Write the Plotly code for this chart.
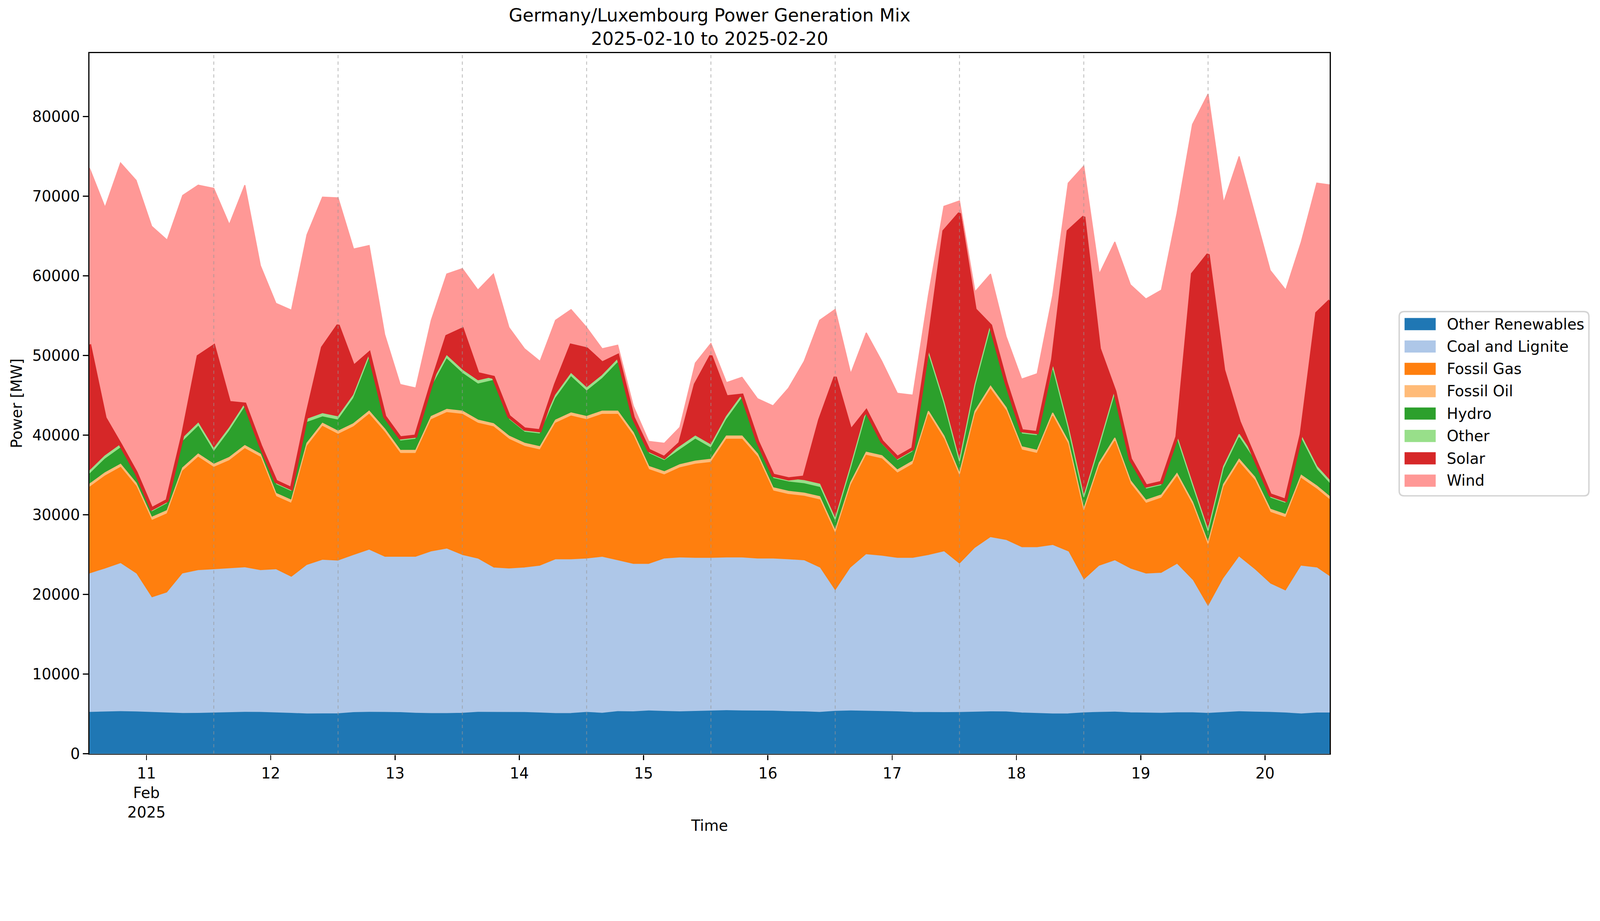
import pandas as pd
import plotly.graph_objects as go

# 3-hourly readings from 2025-02-10 13:00, last sample at 2025-02-20 12:30
times = list(pd.date_range("2025-02-10 13:00", periods=80, freq="3h")) + [
    pd.Timestamp("2025-02-20 12:30")
]

other_renewables = [
    5190, 5230, 5290, 5250, 5190, 5110, 5050, 5070, 5110, 5170,
    5200, 5190, 5140, 5070, 4990, 4990, 5020, 5160, 5200, 5190,
    5160, 5080, 5040, 5040, 5080, 5200, 5190, 5190, 5170, 5110,
    5040, 5050, 5190, 5080, 5290, 5260, 5370, 5310, 5260, 5310,
    5350, 5410, 5370, 5350, 5350, 5290, 5260, 5190, 5320, 5370,
    5340, 5310, 5260, 5190, 5160, 5160, 5170, 5230, 5260, 5250,
    5110, 5050, 4990, 5010, 5130, 5190, 5220, 5140, 5110, 5080,
    5140, 5140, 5070, 5190, 5280, 5220, 5190, 5110, 4990, 5110,
    5110,
]
coal_lignite = [
    17390, 17970, 18580, 17330, 14380, 15090, 17530, 17930, 17990, 18060,
    18150, 17810, 17960, 17080, 18660, 19310, 19180, 19740, 20370, 19490,
    19520, 19600, 20310, 20660, 19820, 19250, 18140, 18010, 18160, 18450,
    19320, 19310, 19260, 19600, 18940, 18520, 18410, 19140, 19330, 19230,
    19190, 19180, 19220, 19100, 19100, 19070, 18970, 18140, 15080, 17960,
    19650, 19500, 19280, 19350, 19740, 20190, 18610, 20560, 21880, 21530,
    20770, 20830, 21160, 20340, 16640, 18370, 19010, 18060, 17460, 17580,
    18640, 16630, 13340, 16800, 19400, 17890, 16130, 15310, 18570, 18220,
    17110,
]
fossil_gas = [
    10870, 11670, 12080, 11000, 9710, 9940, 12920, 14230, 12850, 13570,
    14950, 14230, 9200, 9280, 14950, 16800, 15900, 16150, 17050, 15700,
    13020, 13020, 16600, 17140, 17720, 17050, 17720, 16290, 15260, 14590,
    17140, 18040, 17500, 17940, 18390, 16150, 11900, 10560, 11310, 11810,
    12040, 14900, 14900, 12800, 8550, 8190, 8100, 8550, 7200, 10340,
    12480, 12220, 10690, 11810, 17720, 14140, 11010, 16830, 18610, 16280,
    12270, 11820, 16250, 13470, 8540, 12570, 15030, 10700, 8860, 9440,
    11010, 9440, 7660, 11460, 11900, 11230, 8990, 9220, 11010, 9890,
    9660,
]
fossil_oil = [
    400, 400, 400, 400, 400, 400, 400, 400, 400, 400,
    400, 400, 400, 400, 400, 400, 400, 400, 400, 400,
    400, 400, 400, 400, 400, 400, 400, 400, 400, 400,
    400, 400, 400, 400, 400, 400, 400, 400, 400, 400,
    400, 400, 400, 400, 400, 400, 400, 400, 400, 400,
    400, 400, 400, 400, 400, 400, 400, 400, 400, 400,
    400, 400, 400, 400, 400, 400, 400, 400, 400, 400,
    400, 400, 400, 400, 400, 400, 400, 400, 400, 400,
    400,
]
hydro = [
    1250, 1730, 2050, 920, 670, 860, 3300, 3470, 1550, 3300,
    4800, 670, 1100, 1070, 2600, 800, 1400, 3180, 6580, 1170,
    1160, 1390, 3620, 6310, 4740, 4520, 5420, 2060, 1390, 1610,
    2730, 4520, 3180, 4070, 6080, 1470, 1620, 1390, 1850, 2740,
    1390, 2060, 4740, 1170, 1170, 1170, 1170, 1170, 1100, 1610,
    4750, 1390, 1170, 1170, 6980, 3850, 1160, 2950, 7210, 2740,
    1610, 1830, 5400, 1380, 1170, 1840, 5420, 2280, 1390, 1170,
    4210, 1840, 1160, 1830, 2730, 2060, 1390, 1390, 4520, 2060,
    1620,
]
other = [
    400, 400, 400, 400, 400, 400, 400, 400, 400, 400,
    400, 400, 400, 400, 400, 400, 400, 400, 400, 400,
    400, 400, 400, 400, 400, 400, 400, 400, 400, 400,
    400, 400, 400, 400, 400, 400, 400, 400, 400, 400,
    400, 400, 400, 400, 400, 400, 400, 400, 400, 400,
    400, 400, 400, 400, 400, 400, 400, 400, 400, 400,
    400, 400, 400, 400, 400, 400, 400, 400, 400, 400,
    400, 400, 400, 400, 400, 400, 400, 400, 400, 400,
    400,
]
solar = [
    15900, 4750, 0, 0, 0, 0, 400, 8400, 12900, 3200,
    0, 0, 0, 0, 600, 8300, 11500, 3580, 300, 0,
    0, 0, 0, 2460, 5150, 900, 0, 0, 0, 0,
    1340, 3580, 4920, 1570, 500, 0, 0, 0, 440, 6480,
    11180, 2460, 0, 0, 0, 0, 440, 8050, 17800, 4480,
    0, 0, 0, 0, 900, 21470, 31100, 9400, 0, 0,
    0, 0, 900, 24610, 35120, 12080, 0, 0, 0, 0,
    0, 26390, 34670, 12080, 1570, 0, 0, 0, 220, 19240,
    22590,
]
wind = [
    22150, 26450, 35390, 36700, 35490, 32700, 30100, 21500, 19800, 22350,
    27500, 22600, 22360, 22400, 22560, 18900, 16000, 14770, 13520, 10290,
    6710, 6040, 8060, 7830, 7600, 10510, 12970, 11180, 10070, 8720,
    8060, 4470, 2680, 1790, 1300, 1490, 1120, 1790, 2010, 2690,
    1570, 1790, 2240, 5360, 8720, 11410, 14540, 12530, 8500, 7160,
    9840, 10060, 8060, 6710, 6260, 3130, 1570, 2240, 6480, 5810,
    6490, 7390, 8060, 6040, 6400, 9390, 18790, 21920, 23490, 24160,
    28050, 18790, 20140, 21030, 33330, 30650, 28190, 26400, 24160, 16330,
    14540,
]

series = [
    ("Other Renewables", other_renewables, "#1f77b4"),
    ("Coal and Lignite", coal_lignite, "#aec7e8"),
    ("Fossil Gas", fossil_gas, "#ff7f0e"),
    ("Fossil Oil", fossil_oil, "#ffbb78"),
    ("Hydro", hydro, "#2ca02c"),
    ("Other", other, "#98df8a"),
    ("Solar", solar, "#d62728"),
    ("Wind", wind, "#ff9896"),
]

day_ticks = pd.date_range("2025-02-11", "2025-02-20", freq="D")
day_labels = ["11<br>Feb<br>2025"] + [str(d.day) for d in day_ticks[1:]]

W, H = 4470, 2359
ML, MR, MT, MB = 250, 755, 148, 252
PW, PH = W - ML - MR, H - MT - MB


def px_x(x):
    return (x - ML) / PW


def px_y(y):
    return (H - MB - y) / PH


fig = go.Figure()
for name, values, color in series:
    fig.add_trace(
        go.Scatter(
            x=times,
            y=values,
            name=name,
            mode="lines",
            stackgroup="mix",
            line=dict(color=color, width=9 if name == "Solar" else 3),
            fillcolor=color,
            showlegend=False,
        )
    )

# dashed markers, one per day from the start of the window
for i in range(1, 10):
    t = times[0] + pd.Timedelta(days=i)
    fig.add_shape(
        type="line",
        x0=t, x1=t, y0=0, y1=1,
        xref="x", yref="paper",
        line=dict(color="rgba(150,150,150,0.6)", width=2.5, dash="dash"),
        layer="above",
    )

# matplotlib-style legend: rounded frame, patch swatches, labels
x0, x1 = px_x(3909), px_x(4439)
y0, y1 = px_y(1386), px_y(871)
rx, ry = 14 / PW, 14 / PH
frame = (
    f"M{x0 + rx},{y1} L{x1 - rx},{y1} Q{x1},{y1} {x1},{y1 - ry} "
    f"L{x1},{y0 + ry} Q{x1},{y0} {x1 - rx},{y0} L{x0 + rx},{y0} "
    f"Q{x0},{y0} {x0},{y0 + ry} L{x0},{y1 - ry} Q{x0},{y1} {x0 + rx},{y1} Z"
)
fig.add_shape(
    type="path", path=frame, xref="paper", yref="paper",
    line=dict(color="#d4d4d4", width=4), fillcolor="white",
)
for i, (name, values, color) in enumerate(series):
    yc = 906 + i * 62.5
    fig.add_shape(
        type="rect",
        x0=px_x(3924), x1=px_x(4011),
        y0=px_y(yc + 17), y1=px_y(yc - 17),
        xref="paper", yref="paper",
        line=dict(width=0), fillcolor=color,
    )
    fig.add_annotation(
        x=px_x(4040), y=px_y(yc),
        xref="paper", yref="paper",
        text=name, showarrow=False,
        xanchor="left", yanchor="middle",
        font=dict(size=42, color="black"),
    )

axis_style = dict(
    showline=True,
    linecolor="black",
    linewidth=3.3,
    mirror=True,
    ticks="outside",
    ticklen=15,
    tickwidth=3.3,
    tickcolor="black",
    showgrid=False,
    zeroline=False,
    tickfont=dict(size=42, color="black"),
)

fig.update_layout(
    width=W,
    height=H,
    showlegend=False,
    font=dict(family="DejaVu Sans", color="black"),
    paper_bgcolor="white",
    plot_bgcolor="white",
    margin=dict(l=ML, r=MR, t=MT, b=MB),
    title=dict(
        text="Germany/Luxembourg Power Generation Mix<br>2025-02-10 to 2025-02-20",
        x=0.5,
        xref="paper",
        xanchor="center",
        y=1 - 60 / H,
        yref="container",
        yanchor="top",
        font=dict(size=50, color="black"),
    ),
    xaxis=dict(
        range=[times[0], times[-1]],
        tickvals=day_ticks,
        ticktext=day_labels,
        title=dict(text="Time", font=dict(size=42), standoff=0),
        **axis_style,
    ),
    yaxis=dict(
        range=[0, 88000],
        tickvals=[0, 10000, 20000, 30000, 40000, 50000, 60000, 70000, 80000],
        tickformat="d",
        title=dict(text="Power [MW]", font=dict(size=42), standoff=16),
        **axis_style,
    ),
)

# scale the fixed-size figure to whatever width the browser viewport has
fit_script = """
var gd = document.getElementById('{plot_id}');
var s = document.documentElement.clientWidth / %d;
document.body.style.margin = '0';
document.body.style.overflow = 'hidden';
gd.style.transformOrigin = '0 0';
gd.style.transform = 'scale(' + s + ')';
gd.parentElement.style.width = Math.floor(%d * s) + 'px';
gd.parentElement.style.height = Math.floor(%d * s) + 'px';
gd.parentElement.style.overflow = 'hidden';
""" % (W, W, H)

fig.write_html(
    "out.html", config={"displayModeBar": False}, post_script=fit_script
)
